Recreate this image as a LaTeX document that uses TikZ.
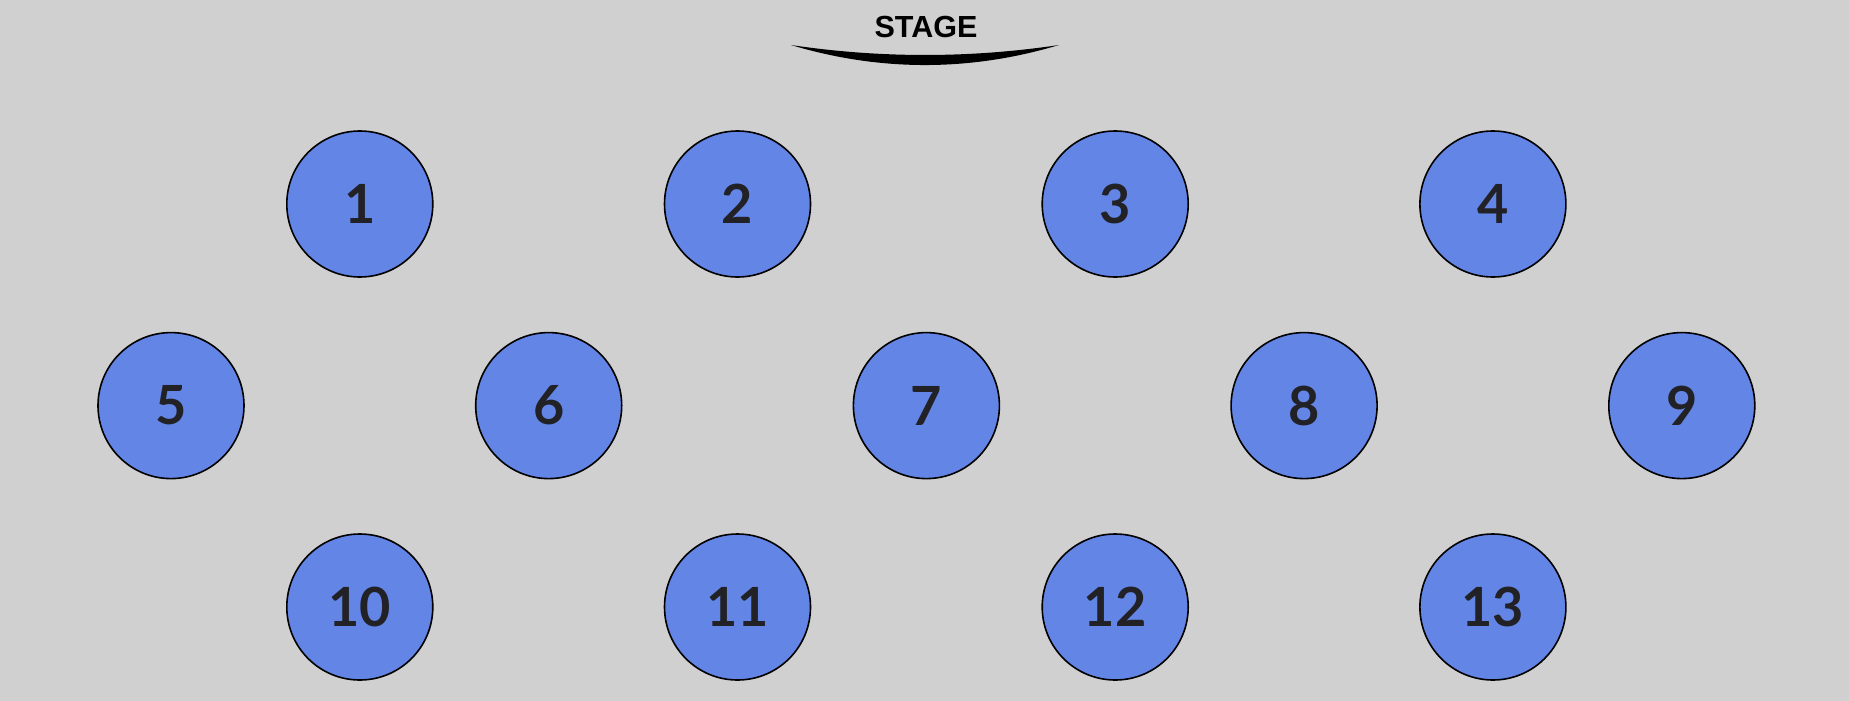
\documentclass[tikz,border=0pt]{standalone}
\usepackage{fontspec}
\setsansfont{Lato}
\newfontfamily\stagefont{Liberation Sans}
\usepackage{tikz}
\usepackage{xcolor}
\usetikzlibrary{calc}

\definecolor{floorgray}{HTML}{D0D0D0}
\definecolor{tableblue}{HTML}{6385E6}
\definecolor{numdark}{HTML}{222226}

\begin{document}
\begin{tikzpicture}[x=1pt, y=-1pt,
  tablenode/.style={circle, draw=black, line width=1.6pt, fill=tableblue,
    minimum size=146pt, inner sep=0pt, text=numdark,
    font=\sffamily\bfseries\fontsize{54}{54}\selectfont}]
  % ---------- floor ----------
  \fill[floorgray] (0,0) rectangle (1849,701);
  \useasboundingbox (0,0) rectangle (1849,701);

  \def\gap{377.7}
  \def\ya{204}
  \def\yb{405.6}
  \def\yc{607}

  % ---------- stage ----------
  \coordinate (sl) at (791,45);
  \coordinate (sr) at (1059,45);
  \fill[black] (sl) .. controls (880,58.3) and (970,58.3) .. (sr)
    .. controls (970,71.7) and (880,71.7) .. (sl) -- cycle;
  \node[font=\stagefont\bfseries\fontsize{30.5}{30.5}\selectfont] (stage) at (926,27) {STAGE};

  % ---------- front row ----------
  \node[tablenode] (tab1) at (359.8,\ya) {1};
  \node[tablenode] (tab2) at ($(tab1)+(\gap,0)$) {2};
  \node[tablenode] (tab3) at ($(tab2)+(\gap,0)$) {3};
  \node[tablenode] (tab4) at ($(tab3)+(\gap,0)$) {4};

  % ---------- middle row ----------
  \node[tablenode] (tab5) at (171,\yb) {5};
  \node[tablenode] (tab6) at ($(tab5)+(\gap,0)$) {6};
  \node[tablenode] (tab7) at ($(tab6)+(\gap,0)$) {7};
  \node[tablenode] (tab8) at ($(tab7)+(\gap,0)$) {8};
  \node[tablenode] (tab9) at ($(tab8)+(\gap,0)$) {9};

  % ---------- back row ----------
  \node[tablenode] (tab10) at (359.8,\yc) {10};
  \node[tablenode] (tab11) at ($(tab10)+(\gap,0)$) {11};
  \node[tablenode] (tab12) at ($(tab11)+(\gap,0)$) {12};
  \node[tablenode] (tab13) at ($(tab12)+(\gap,0)$) {13};
\end{tikzpicture}
\end{document}
